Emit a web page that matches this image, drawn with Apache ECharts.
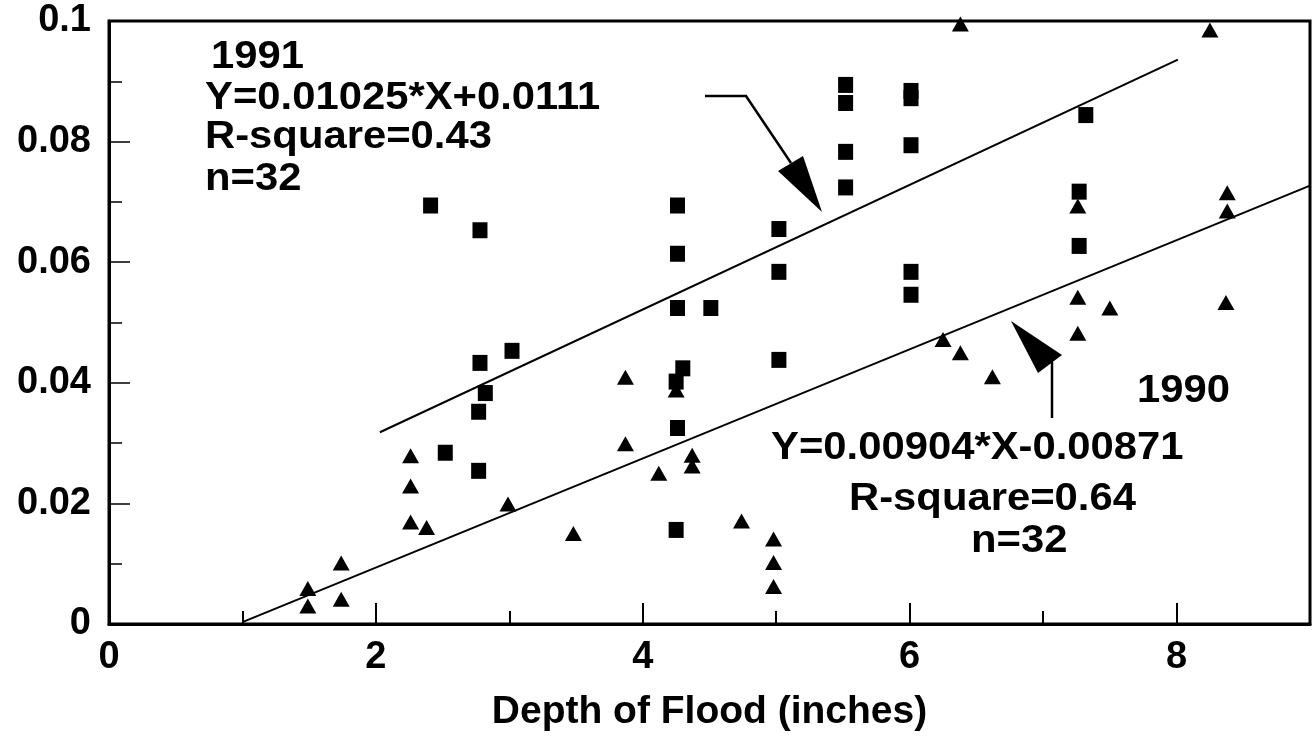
<!DOCTYPE html>
<html><head><meta charset="utf-8">
<script src="https://cdn.jsdelivr.net/npm/echarts@6/dist/echarts.min.js"></script>
<style>html,body{margin:0;padding:0;background:#fff}#c{width:1314px;height:738px}</style>
</head><body><div id="c"></div>
<script>
// 1991 observations (squares): [depth of flood (inches), value]
const squares1991 = [
  [2.41, 0.0694], [2.78, 0.0653], [2.78, 0.0433], [2.82, 0.0383], [2.77, 0.0352],
  [2.52, 0.0284], [2.77, 0.0254], [3.02, 0.0453], [4.26, 0.0694], [4.26, 0.0614],
  [4.26, 0.0524], [4.30, 0.0424], [4.25, 0.0402], [4.26, 0.0325], [4.25, 0.0156],
  [4.51, 0.0524], [5.02, 0.0655], [5.02, 0.0584], [5.02, 0.0438], [5.52, 0.0894],
  [5.52, 0.0864], [5.52, 0.0783], [5.52, 0.0724], [6.01, 0.0884], [6.01, 0.0872],
  [6.01, 0.0794], [6.01, 0.0584], [6.01, 0.0546], [7.32, 0.0844], [7.27, 0.0717],
  [7.27, 0.0627]
];
// 1990 observations (triangles)
const triangles1990 = [
  [1.49, 0.0059], [1.49, 0.0030], [1.74, 0.0101], [1.74, 0.0041], [2.26, 0.0279],
  [2.26, 0.0229], [2.26, 0.0169], [2.38, 0.0160], [2.99, 0.0199], [3.48, 0.0150],
  [3.87, 0.0409], [3.87, 0.0299], [4.12, 0.0250], [4.25, 0.0388], [4.37, 0.0280],
  [4.37, 0.0262], [4.74, 0.0171], [4.98, 0.0141], [4.98, 0.0102], [4.98, 0.0062],
  [6.25, 0.0472], [6.38, 0.0450], [6.62, 0.0410], [6.38, 0.0995], [8.25, 0.0985],
  [7.26, 0.0693], [7.26, 0.0542], [7.26, 0.0482], [7.50, 0.0524], [8.38, 0.0715],
  [8.38, 0.0685], [8.37, 0.0533]
];
// regression line end points
const fit1991 = [[2.03, 0.0318], [8.01, 0.0936]];
const fit1990 = [[1.0, 0.0003], [9.0, 0.0727]];
// tick labels
const xTickLabels = ['0', '2', '4', '6', '8'];
const yTickLabels = ['0', '0.02', '0.04', '0.06', '0.08', '0.1'];
const xTitle = 'Depth of Flood (inches)';
const note1991 = ['1991', 'Y=0.01025*X+0.0111', 'R-square=0.43', 'n=32'];
const note1990 = ['1990', 'Y=0.00904*X-0.00871', 'R-square=0.64', 'n=32'];

const FONT = '"Liberation Sans", Arial, Helvetica, sans-serif';
const chart = echarts.init(document.getElementById('c'), null, {renderer: 'canvas'});

function txt(s, x, y) {
  return {type: 'text', x: x, y: y, scaleX: 1.1, z: 100,
    style: {text: s, x: 0, y: 0, fill: '#000', font: 'bold 38px ' + FONT,
      align: 'left', verticalAlign: 'middle'}};
}

const option = {
  backgroundColor: '#fff',
  animation: false,
  grid: {left: 109, right: 4, top: 21, bottom: 114, show: true,
    borderColor: '#000', borderWidth: 3, backgroundColor: 'transparent'},
  xAxis: [{
    type: 'value', min: 0, max: 9, interval: 1,
    axisLine: {onZero: false, lineStyle: {color: '#000', width: 3}},
    axisTick: {inside: true, length: 13, lineStyle: {color: '#000', width: 2}},
    splitLine: {show: false},
    axisLabel: {margin: 15, color: '#000', fontSize: 38, fontWeight: 'bold', fontFamily: FONT,
      formatter: function (v) { return (Math.round(v) % 2 === 0 && v < 9) ? xTickLabels[Math.round(v) / 2] : ''; }},
    name: xTitle, nameLocation: 'middle', nameGap: 69,
    nameTextStyle: {color: '#000', fontSize: 39, fontWeight: 'bold', fontFamily: FONT}
  }, {
    type: 'value', min: 0, max: 9, interval: 2, position: 'bottom',
    axisLine: {show: false},
    axisTick: {inside: true, length: 21, lineStyle: {color: '#000', width: 2}},
    axisLabel: {show: false}, splitLine: {show: false}
  }],
  yAxis: {
    type: 'value', min: 0, max: 0.1, interval: 0.02,
    axisLine: {onZero: false, lineStyle: {color: '#000', width: 3}},
    axisTick: {inside: true, length: 21, lineStyle: {color: '#000', width: 1.5}},
    minorTick: {show: true, splitNumber: 2, length: 13, lineStyle: {color: '#000', width: 1.5}},
    splitLine: {show: false}, minorSplitLine: {show: false},
    axisLabel: {margin: 18, color: '#000', fontSize: 38, fontWeight: 'bold', fontFamily: FONT,
      padding: [8, 0, 0, 0],
      formatter: function (v) { return yTickLabels[Math.round(v / 0.02)]; }}
  },
  series: [
    {type: 'scatter', name: '1991', data: squares1991, symbol: 'rect', symbolSize: [15, 16],
      itemStyle: {color: '#000', opacity: 1}, z: 5},
    {type: 'scatter', name: '1990', data: triangles1990, symbol: 'triangle', symbolSize: [17, 15],
      itemStyle: {color: '#000', opacity: 1}, z: 5},
    {type: 'line', name: 'fit 1991', data: fit1991, symbol: 'none',
      lineStyle: {color: '#000', width: 2}, z: 4},
    {type: 'line', name: 'fit 1990', data: fit1990, symbol: 'none',
      lineStyle: {color: '#000', width: 2}, z: 4}
  ],
  graphic: [
    txt(note1991[0], 211, 58),
    txt(note1991[1], 205, 99),
    txt(note1991[2], 205, 138),
    txt(note1991[3], 205, 180),
    txt(note1990[0], 1137, 392),
    txt(note1990[1], 771, 449),
    txt(note1990[2], 849, 500),
    txt(note1990[3], 971, 542),
    {type: 'polyline', z: 100, shape: {points: [[705, 96], [746, 96], [791, 163]]},
      style: {stroke: '#000', lineWidth: 2.5, fill: null}},
    {type: 'polygon', z: 100, shape: {points: [[778, 171], [803, 156], [822, 212]]},
      style: {fill: '#000'}},
    {type: 'polyline', z: 100, shape: {points: [[1052, 418], [1052, 362]]},
      style: {stroke: '#000', lineWidth: 2.5, fill: null}},
    {type: 'polygon', z: 100, shape: {points: [[1038, 373], [1062, 355], [1011, 321]]},
      style: {fill: '#000'}}
  ]
};
chart.setOption(option);
</script>
</body></html>
